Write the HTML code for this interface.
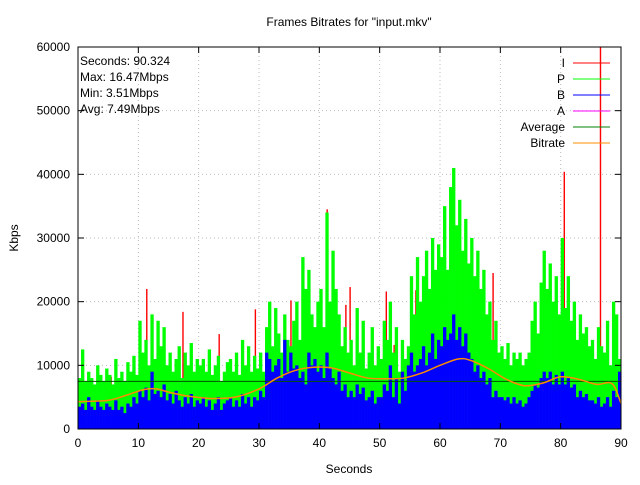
<!DOCTYPE html>
<html><head><meta charset="utf-8"><style>
body{margin:0;background:#fff}
svg text{font-family:"Liberation Sans",sans-serif;font-size:12px;fill:#000}
</style></head><body>
<svg id="c" width="640" height="480">
<text x="349" y="26" text-anchor="middle">Frames Bitrates for "input.mkv"</text>
<text x="349" y="473" text-anchor="middle">Seconds</text>
<text transform="translate(18,238) rotate(-90)" text-anchor="middle">Kbps</text>
<g id="grid"></g><g id="bars"></g><g id="lines"></g><g id="axes"></g>
<g>
<text x="80" y="65">Seconds: 90.324</text>
<text x="80" y="81">Max: 16.47Mbps</text>
<text x="80" y="97">Min: 3.51Mbps</text>
<text x="80" y="113">Avg: 7.49Mbps</text>
</g>
<g id="legend"></g>
</svg>
<script>
const xTicks=[0,10,20,30,40,50,60,70,80,90];
const yTicks=[0,10000,20000,30000,40000,50000,60000];
const pValues=[8000,12500,7500,9000,8000,7000,10000,8500,7500,9500,
8500,7000,11000,8000,9000,7500,10500,9000,11500,8500,
17000,12000,14000,10000,18000,11000,17000,13000,16000,10000,
12000,9000,11000,13000,8000,12000,10000,13500,9000,11000,
10000,11000,9000,12500,8500,10000,11500,7500,9000,10500,
11000,9000,12000,8500,14000,10000,13000,9000,11500,9500,
12000,9000,16000,20000,13000,19000,15000,12000,18000,14000,
13000,17000,20000,14000,27000,22000,25000,18000,16000,20000,
22000,16000,34000,20000,28000,22000,18000,13000,16000,12000,
14000,10000,19000,12000,17000,9500,12000,16000,10000,13000,
11000,17000,14000,20000,12000,16000,9000,14000,11000,13000,
24000,18000,27000,20000,24000,28000,22000,30000,25000,29000,
27000,35000,25000,38000,41000,32000,36000,28000,33000,26000,
30000,24000,28000,22000,25000,18000,20000,14000,17000,12000,
13000,11000,13500,10000,12000,11000,12000,10000,11000,12000,
17000,20000,15000,23000,28000,22000,26000,20000,24000,18000,
30000,19000,24000,17000,20000,14000,18000,15000,16000,13000,
14000,11000,16000,13000,12000,17000,10000,20000,18000,11000];
const bValues=[3500,4000,3000,5000,3500,3000,4500,3500,3000,4000,
3500,3000,4500,3000,3500,2500,4000,3500,5000,4000,
6000,5000,6500,4500,9000,5500,6000,5000,7000,4500,
5500,4000,6000,4500,3500,5000,4000,5500,3500,4500,
4000,5000,3500,4500,3000,4000,5000,3000,4000,4500,
5000,3500,4500,3500,5500,4000,5000,3500,5000,4500,
6000,5000,12000,11000,9000,10000,11000,8000,14000,9000,
12000,9500,10000,8000,9000,7000,12000,10000,11000,9000,
10000,8000,12000,9500,8000,7000,9000,6000,7000,5000,
6000,5000,7000,5500,6500,4500,5000,6000,4000,5000,
5000,7000,6000,10000,5000,8000,4000,9000,6000,10000,
12000,9000,10000,11000,13000,10000,12000,15000,11000,14000,
13000,16000,14000,15000,18000,14000,16000,13000,15000,12000,
11000,9000,10000,8000,9000,7000,8000,5000,6000,5000,
5000,4500,5000,4000,5000,4000,4500,3500,4000,5000,
6000,7000,6500,8000,9000,8000,9000,7000,8500,7000,
9000,7000,8000,6500,7000,5000,6000,5000,5500,4500,
4500,4000,5000,3500,4000,5000,3500,6000,5000,9000];
const iTimes=[5.5,11.4,17.4,23.4,29.4,35.3,41.3,44.4,45.1,51.1,52.4,56.0,56.9,62.7,68.8,74.6,80.6,86.6];
const iValues=[8200,22000,18400,14900,18800,20200,34500,19500,22300,21600,13200,21800,12700,31900,24500,9600,40400,60000];
const rateTimes=[0,5,8,11,13,15,18,22,26,30,33,36,39,42,45,48,51,54,57,60,63,65,68,71,74,77,80,83,86,88,89,90];
const rateValues=[4300,4500,5300,6200,6300,5800,5200,4800,5000,6300,8000,9200,9700,9600,8800,8000,7900,8000,8800,10000,11000,10800,9500,7800,6800,7200,8200,7800,7000,7300,6500,4000];
const avgValue=7490;
const legendNames=["I","P","B","A","Average","Bitrate"];
const legendColors=["#ff0000","#00ff00","#0000ff","#ff00ff","#008000","#ff8c00"];

const X0=78,X1=621,Y0=429,Y1=47;
const sx=t=>X0+(t/90)*(X1-X0);
const sy=v=>Y0-(v/60000)*(Y0-Y1);
const NS="http://www.w3.org/2000/svg";
function mk(tag,parent,attrs){const e=document.createElementNS(NS,tag);for(const k in attrs)e.setAttribute(k,attrs[k]);document.getElementById(parent).appendChild(e);return e;}

xTicks.forEach(t=>{
 const g=mk('line','grid',{x1:sx(t),x2:sx(t),y1:Y0,y2:Y1,stroke:'#bbb','stroke-dasharray':'1,3'});
 
 const l=mk('text','axes',{x:sx(t),y:Y0+18,'text-anchor':'middle'});l.textContent=t;
 
 mk('line','axes',{x1:sx(t),x2:sx(t),y1:Y0,y2:Y0-6,stroke:'#000'});
 mk('line','axes',{x1:sx(t),x2:sx(t),y1:Y1,y2:Y1+6,stroke:'#000'});
});
yTicks.forEach(v=>{
 const g=mk('line','grid',{x1:X0,x2:X1,y1:sy(v),y2:sy(v),stroke:'#bbb','stroke-dasharray':'1,3'});
 
 const l=mk('text','axes',{x:X0-8,y:sy(v)+4,'text-anchor':'end'});l.textContent=v;
 
 mk('line','axes',{x1:X0,x2:X0+6,y1:sy(v),y2:sy(v),stroke:'#000'});
 mk('line','axes',{x1:X1,x2:X1-6,y1:sy(v),y2:sy(v),stroke:'#000'});
});
const fr=mk('rect','axes',{x:X0,y:Y1,width:X1-X0,height:Y0-Y1,fill:'none',stroke:'#000'});


iTimes.forEach((t,i)=>{
 const b=mk('rect','bars',{x:sx(t)-0.7,y:sy(iValues[i]),width:1.4,height:Y0-sy(iValues[i]),fill:'#ff0000'});
 
});
const w=(sx(0.5)-sx(0));
pValues.forEach((v,i)=>{
 const b=mk('rect','bars',{x:sx(i*0.5),y:sy(v),width:w+0.3,height:Y0-sy(v),fill:'#00ff00'});
 
});
bValues.forEach((v,i)=>{
 const b=mk('rect','bars',{x:sx(i*0.5),y:sy(v),width:w+0.3,height:Y0-sy(v),fill:'#0000ff'});
 
});
const av=mk('line','lines',{x1:X0,x2:X1,y1:sy(avgValue),y2:sy(avgValue),stroke:'#005000','stroke-width':1});

const pts=rateTimes.map((t,i)=>[sx(t),sy(rateValues[i])]);
let d='M'+pts[0][0]+','+pts[0][1];
for(let i=0;i<pts.length-1;i++){const p0=pts[Math.max(0,i-1)],p1=pts[i],p2=pts[i+1],p3=pts[Math.min(pts.length-1,i+2)];
 d+=` C${p1[0]+(p2[0]-p0[0])/6},${p1[1]+(p2[1]-p0[1])/6} ${p2[0]-(p3[0]-p1[0])/6},${p2[1]-(p3[1]-p1[1])/6} ${p2[0]},${p2[1]}`;}
const br=mk('path','lines',{d:d,fill:'none',stroke:'#ff8c00','stroke-width':1.5});


legendNames.forEach((n,i)=>{
 const y=63+i*16;
 const t=mk('text','legend',{x:565,y:y+4,'text-anchor':'end'});t.textContent=n;
 
 mk('line','legend',{x1:573,x2:610,y1:y,y2:y,stroke:legendColors[i]});
});
</script>
</body></html>
